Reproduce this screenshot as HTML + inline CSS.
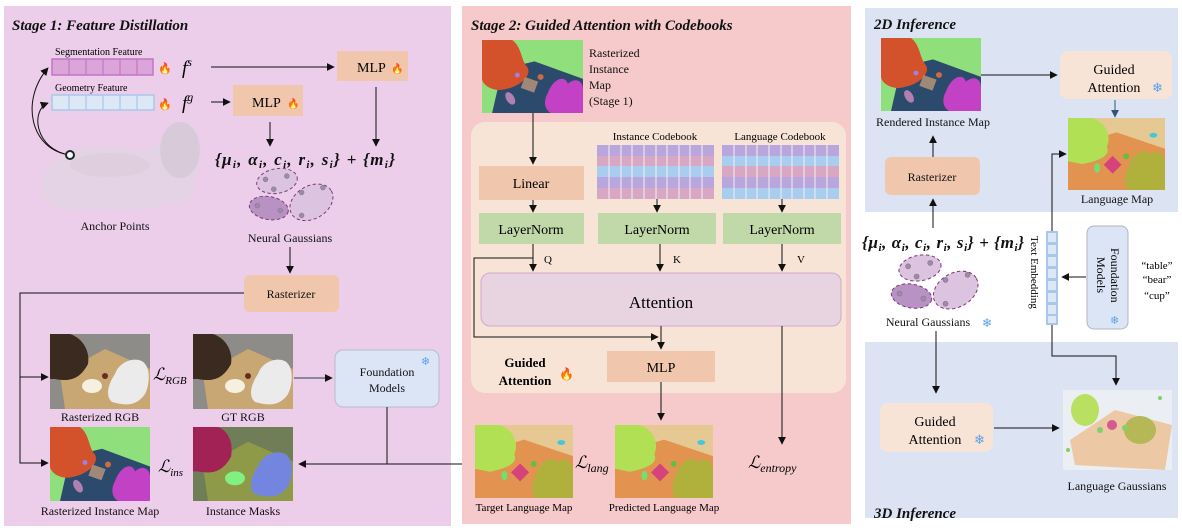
<!DOCTYPE html>
<html><head><meta charset="utf-8">
<style>
html,body{margin:0;padding:0;background:#fff;}
svg{display:block;font-family:"Liberation Serif",serif;}
.t{font-size:12px;fill:#111;}
.bt{font-weight:bold;font-style:italic;font-size:15px;fill:#111;}
.m{font-style:italic;font-weight:bold;font-size:17px;fill:#111;}
</style></head><body>
<svg width="1182" height="530" viewBox="0 0 1182 530" xmlns="http://www.w3.org/2000/svg">
<defs>
<marker id="a" viewBox="0 0 10 10" refX="9" refY="5" markerWidth="8" markerHeight="8" orient="auto-start-reverse"><path d="M0,0L10,5L0,10z" fill="#111"/></marker>
<marker id="ab" viewBox="0 0 10 10" refX="9" refY="5" markerWidth="8" markerHeight="8" orient="auto"><path d="M0,0L10,5L0,10z" fill="#2d5575"/></marker>
<symbol id="inst" viewBox="0 0 100 75" preserveAspectRatio="none">
<rect width="100" height="75" fill="#8fe07c"/>
<path d="M20,30 L52,22 L100,40 L100,75 L10,75 Z" fill="#2b4a6c"/>
<path d="M0,0 L30,0 C40,8 38,20 45,28 C50,38 35,48 25,50 C10,55 0,45 0,40Z" fill="#d4522b"/>
<path d="M65,55 C70,40 82,35 85,45 C92,38 100,42 100,50 L100,75 L68,75 C60,70 62,60 65,55Z" fill="#c241c4"/>
<rect x="40" y="40" width="14" height="12" fill="#a08878" transform="rotate(20 47 46)"/>
<circle cx="58" cy="38" r="3" fill="#d06a40"/><circle cx="35" cy="36" r="2.5" fill="#a080e0"/>
<ellipse cx="28" cy="60" rx="4" ry="7" fill="#b080b0" transform="rotate(-30 28 60)"/>
</symbol>
<symbol id="lang" viewBox="0 0 100 75" preserveAspectRatio="none">
<rect width="100" height="75" fill="#e5c892"/>
<path d="M0,30 L50,15 L100,32 L100,75 L0,75Z" fill="#e2934f"/>
<path d="M0,0 L25,0 C40,5 45,20 40,30 C45,40 30,45 15,48 L0,45Z" fill="#b2e054"/>
<path d="M65,45 C70,35 80,32 85,38 C95,30 100,40 100,50 L100,75 L62,75 C55,68 60,55 65,45Z" fill="#b0b03c"/>
<rect x="40" y="42" width="13" height="13" fill="#d5427c" transform="rotate(45 46 48)"/>
<circle cx="60" cy="40" r="3" fill="#60c040"/><ellipse cx="88" cy="18" rx="4" ry="2.5" fill="#40c8e0"/>
<ellipse cx="30" cy="52" rx="3" ry="5" fill="#70e070"/>
</symbol>
<symbol id="rgb" viewBox="0 0 100 75" preserveAspectRatio="none">
<rect width="100" height="75" fill="#8e8c88"/>
<path d="M10,40 L55,15 L100,35 L100,75 L15,75Z" fill="#c9a773"/>
<path d="M0,0 L20,0 C35,5 40,20 38,30 C30,45 20,48 5,45 L0,45Z" fill="#3b2a20"/>
<path d="M65,40 C70,25 90,22 95,30 C100,35 100,50 95,60 C85,75 70,70 62,68 C55,62 58,50 65,40Z" fill="#ebebeb"/>
<ellipse cx="42" cy="52" rx="10" ry="7" fill="#f5f0e0"/>
<circle cx="55" cy="42" r="3" fill="#6a2a20"/>
</symbol>
<symbol id="mask" viewBox="0 0 100 75" preserveAspectRatio="none">
<rect width="100" height="75" fill="#6f7e56"/>
<path d="M10,40 L55,15 L100,35 L100,75 L15,75Z" fill="#8e9a48"/>
<path d="M0,0 L25,0 C38,5 40,20 38,30 C30,45 20,48 5,45 L0,45Z" fill="#a32256"/>
<path d="M65,40 C70,25 90,22 95,30 C100,35 100,50 95,60 C85,75 70,70 62,68 C55,62 58,50 65,40Z" fill="#7485e0"/>
<ellipse cx="42" cy="52" rx="10" ry="7" fill="#80f080"/>
</symbol>
<g id="gauss">
<ellipse cx="0" cy="0" rx="25" ry="15" fill="#dcc4e0" stroke="#7a3a7a" stroke-dasharray="4 3" stroke-width="1.2" transform="rotate(-10)"/>
<ellipse cx="-10" cy="33" rx="24" ry="14" fill="#b992c4" stroke="#7a3a7a" stroke-dasharray="4 3" stroke-width="1.2" transform="rotate(10 -10 33)"/>
<ellipse cx="42" cy="26" rx="28" ry="20" fill="#dcc4e0" stroke="#7a3a7a" stroke-dasharray="4 3" stroke-width="1.2" transform="rotate(-30 42 26)"/>
<g fill="#a08aa8" stroke="#80708a" stroke-width="0.6"><circle cx="-14" cy="-2" r="3"/><circle cx="12" cy="-6" r="3"/><circle cx="-4" cy="10" r="3"/><circle cx="-24" cy="30" r="3"/><circle cx="4" cy="36" r="3"/><circle cx="30" cy="14" r="3"/><circle cx="56" cy="8" r="3"/><circle cx="30" cy="42" r="3"/></g>
</g>
</defs>

<!-- Stage 1 panel -->
<rect x="4" y="6" width="447" height="520" fill="#eccdea"/>
<text x="12" y="30" class="bt">Stage 1: Feature Distillation</text>
<text x="55" y="55" style="font-size:10px">Segmentation Feature</text>
<rect x="52" y="59" width="101" height="16" fill="#dba5da" stroke="#c474c4" stroke-width="1.5"/>
<g stroke="#c474c4" stroke-width="1.2"><line x1="69" y1="59" x2="69" y2="75"/><line x1="86" y1="59" x2="86" y2="75"/><line x1="103" y1="59" x2="103" y2="75"/><line x1="120" y1="59" x2="120" y2="75"/><line x1="137" y1="59" x2="137" y2="75"/></g>
<text x="55" y="91" style="font-size:10px">Geometry Feature</text>
<rect x="52" y="95" width="102" height="15" fill="#dde8f6" stroke="#a9c8e9" stroke-width="1.5"/>
<g stroke="#a9c8e9" stroke-width="1.2"><line x1="69" y1="95" x2="69" y2="110"/><line x1="86" y1="95" x2="86" y2="110"/><line x1="103" y1="95" x2="103" y2="110"/><line x1="120" y1="95" x2="120" y2="110"/><line x1="137" y1="95" x2="137" y2="110"/></g>
<text x="158" y="72" style="font-size:11px">🔥</text><text x="158" y="108" style="font-size:11px">🔥</text>
<text x="182" y="74" style="font-size:19px;font-style:italic">f<tspan dy="-8" font-size="12">s</tspan></text>
<text x="182" y="109" style="font-size:19px;font-style:italic">f<tspan dy="-8" font-size="12">g</tspan></text>
<line x1="211" y1="67" x2="334" y2="67" stroke="#111" marker-end="url(#a)"/>
<rect x="337" y="51" width="71" height="30" fill="#f0c7ac"/>
<text x="357" y="72" style="font-size:14px">MLP</text><text x="391" y="72" style="font-size:10px">🔥</text>
<line x1="211" y1="102" x2="230" y2="102" stroke="#111" marker-end="url(#a)"/>
<rect x="233" y="85" width="70" height="31" fill="#f0c7ac"/>
<text x="252" y="107" style="font-size:14px">MLP</text><text x="287" y="107" style="font-size:10px">🔥</text>
<line x1="270" y1="122" x2="270" y2="146" stroke="#111" marker-end="url(#a)"/>
<line x1="376" y1="87" x2="376" y2="146" stroke="#111" marker-end="url(#a)"/>
<text x="215" y="165" class="m" textLength="180" lengthAdjust="spacing">{μ<tspan font-size="11" dy="3">i</tspan><tspan dy="-3">, α</tspan><tspan font-size="11" dy="3">i</tspan><tspan dy="-3">, c</tspan><tspan font-size="11" dy="3">i</tspan><tspan dy="-3">, r</tspan><tspan font-size="11" dy="3">i</tspan><tspan dy="-3">, s</tspan><tspan font-size="11" dy="3">i</tspan><tspan dy="-3">}  +  {m</tspan><tspan font-size="11" dy="3">i</tspan><tspan dy="-3">}</tspan></text>
<use href="#gauss" transform="translate(277,181) scale(0.82)"/>
<text x="290" y="242" class="t" text-anchor="middle">Neural Gaussians</text>
<!-- anchor cloud -->
<g opacity="0.7">
<path d="M45,170 L70,150 L100,145 L150,150 L175,125 L195,125 L200,160 L190,200 L140,210 L60,210 L40,195Z" fill="#e2d6e2"/>
<ellipse cx="180" cy="150" rx="20" ry="28" fill="#d2cad2"/>
<ellipse cx="110" cy="165" rx="40" ry="12" fill="#dad0da"/>
</g>
<text x="115" y="230" class="t" text-anchor="middle">Anchor Points</text>
<path d="M70,155 C30,150 20,100 48,68" fill="none" stroke="#111" marker-end="url(#a)"/>
<path d="M70,155 C35,150 30,110 48,103" fill="none" stroke="#111" marker-end="url(#a)"/>
<circle cx="70" cy="155" r="4" fill="#fff" stroke="#1a2a30" stroke-width="2"/>
<line x1="290" y1="247" x2="290" y2="273" stroke="#111" marker-end="url(#a)"/>
<rect x="244" y="275" width="95" height="37" rx="6" fill="#f0c7ac"/>
<text x="291" y="298" class="t" text-anchor="middle">Rasterizer</text>
<polyline points="244,293 20,293 20,463 48,463" fill="none" stroke="#111" marker-end="url(#a)"/>
<line x1="20" y1="377" x2="48" y2="377" stroke="#111" marker-end="url(#a)"/>
<use href="#rgb" x="50" y="334" width="100" height="75"/>
<use href="#rgb" x="193" y="334" width="100" height="75"/>
<text x="100" y="421" class="t" text-anchor="middle">Rasterized RGB</text>
<text x="243" y="421" class="t" text-anchor="middle">GT RGB</text>
<text x="153" y="380" style="font-style:italic;font-size:17px">ℒ<tspan font-size="11" dy="4">RGB</tspan></text>
<use href="#inst" x="50" y="427" width="100" height="74"/>
<use href="#mask" x="193" y="427" width="100" height="74"/>
<text x="158" y="472" style="font-style:italic;font-size:17px">ℒ<tspan font-size="11" dy="4">ins</tspan></text>
<text x="100" y="515" class="t" text-anchor="middle">Rasterized Instance Map</text>
<text x="243" y="515" class="t" text-anchor="middle">Instance Masks</text>
<line x1="294" y1="378" x2="332" y2="378" stroke="#2d3d50" marker-end="url(#a)"/>
<rect x="335" y="350" width="104" height="57" rx="8" fill="#dbe5f5" stroke="#b8bcc8"/>
<text x="387" y="376" class="t" text-anchor="middle">Foundation</text>
<text x="387" y="392" class="t" text-anchor="middle">Models</text>
<text x="421" y="365" style="font-size:11px;fill:#5aa0e8">❄</text>
<line x1="387" y1="407" x2="387" y2="464" stroke="#111"/>
<line x1="299" y1="464" x2="471" y2="464" stroke="#111" marker-start="url(#a)" marker-end="url(#a)"/>

<!-- Stage 2 -->
<rect x="462" y="6" width="389" height="518" fill="#f6c9ca"/>
<text x="471" y="30" class="bt">Stage 2: Guided Attention with Codebooks</text>
<use href="#inst" x="482" y="40" width="101" height="73"/>
<text x="589" y="57" class="t">Rasterized</text><text x="589" y="73" class="t">Instance</text><text x="589" y="89" class="t">Map</text><text x="589" y="105" class="t">(Stage 1)</text>
<rect x="471" y="122" width="375" height="271" rx="14" fill="#f8e4d7"/>
<line x1="533" y1="113" x2="533" y2="164" stroke="#111" marker-end="url(#a)"/>
<rect x="479" y="166" width="105" height="34" fill="#f0c7ac"/>
<text x="531" y="188" style="font-size:14px" text-anchor="middle">Linear</text>
<line x1="533" y1="200" x2="533" y2="212" stroke="#111" marker-end="url(#a)"/>
<rect x="479" y="213" width="105" height="31" fill="#c1d9a9"/>
<text x="531" y="234" style="font-size:14px" text-anchor="middle">LayerNorm</text>
<rect x="598" y="213" width="118" height="31" fill="#c1d9a9"/>
<text x="657" y="234" style="font-size:14px" text-anchor="middle">LayerNorm</text>
<rect x="723" y="213" width="118" height="31" fill="#c1d9a9"/>
<text x="782" y="234" style="font-size:14px" text-anchor="middle">LayerNorm</text>
<text x="655" y="140" style="font-size:11px" text-anchor="middle">Instance Codebook</text>
<text x="780" y="140" style="font-size:11px" text-anchor="middle">Language Codebook</text>
<g>
<rect x="597" y="145" width="117" height="11" fill="#b9a6dc"/><rect x="597" y="156" width="117" height="10" fill="#d7a7c4"/><rect x="597" y="166" width="117" height="11" fill="#a8cdef"/><rect x="597" y="177" width="117" height="11" fill="#b9a6dc"/><rect x="597" y="188" width="117" height="11" fill="#d7a7c4"/>
<rect x="722" y="145" width="117" height="11" fill="#b9a6dc"/><rect x="722" y="156" width="117" height="10" fill="#a8cdef"/><rect x="722" y="166" width="117" height="11" fill="#d7a7c4"/><rect x="722" y="177" width="117" height="11" fill="#b9a6dc"/><rect x="722" y="188" width="117" height="11" fill="#a8cdef"/>
<g stroke="#f0e8f0" stroke-width="1.4" opacity="0.8">
<path d="M609,145V199M621,145V199M632,145V199M644,145V199M656,145V199M667,145V199M679,145V199M690,145V199M702,145V199"/>
<path d="M734,145V199M746,145V199M757,145V199M769,145V199M781,145V199M792,145V199M804,145V199M815,145V199M827,145V199"/>
</g></g>
<line x1="657" y1="199" x2="657" y2="212" stroke="#111" marker-end="url(#a)"/>
<line x1="782" y1="199" x2="782" y2="212" stroke="#111" marker-end="url(#a)"/>
<line x1="533" y1="244" x2="533" y2="271" stroke="#111" marker-end="url(#a)"/>
<line x1="660" y1="244" x2="660" y2="271" stroke="#111" marker-end="url(#a)"/>
<line x1="782" y1="244" x2="782" y2="271" stroke="#111" marker-end="url(#a)"/>
<text x="544" y="263" style="font-size:11px">Q</text><text x="673" y="263" style="font-size:11px">K</text><text x="797" y="263" style="font-size:11px">V</text>
<rect x="481" y="273" width="360" height="53" rx="9" fill="#e8d3e0" stroke="#d2a8cb"/>
<text x="661" y="308" style="font-size:17px" text-anchor="middle">Attention</text>
<polyline points="533,258 474,258 474,337 658,337" fill="none" stroke="#111" marker-end="url(#a)"/>
<line x1="661" y1="326" x2="661" y2="349" stroke="#111" marker-end="url(#a)"/>
<rect x="607" y="351" width="108" height="31" fill="#f0c7ac"/>
<text x="661" y="372" style="font-size:14px" text-anchor="middle">MLP</text>
<text x="525" y="367" style="font-size:13px;font-weight:bold" text-anchor="middle">Guided</text>
<text x="525" y="385" style="font-size:13px;font-weight:bold" text-anchor="middle">Attention</text>
<text x="559" y="378" style="font-size:12px">🔥</text>
<line x1="661" y1="382" x2="661" y2="420" stroke="#111" marker-end="url(#a)"/>
<line x1="782" y1="326" x2="782" y2="444" stroke="#111" marker-end="url(#a)"/>
<use href="#lang" x="475" y="425" width="98" height="73"/>
<use href="#lang" x="615" y="425" width="98" height="73"/>
<text x="524" y="511" style="font-size:11px" text-anchor="middle">Target Language Map</text>
<text x="664" y="511" style="font-size:11px" text-anchor="middle">Predicted Language Map</text>
<text x="575" y="468" style="font-size:17px;font-style:italic">ℒ<tspan font-size="12" dy="4">lang</tspan></text>
<text x="748" y="468" style="font-size:17px;font-style:italic">ℒ<tspan font-size="12" dy="4">entropy</tspan></text>

<!-- Right panels -->
<rect x="865" y="8" width="313" height="204" fill="#dce4f4"/>
<rect x="865" y="342" width="313" height="176" fill="#dce4f4"/>
<text x="874" y="29" class="bt">2D Inference</text>
<text x="874" y="518" class="bt">3D Inference</text>
<use href="#inst" x="881" y="38" width="100" height="73"/>
<text x="933" y="126" class="t" text-anchor="middle">Rendered Instance Map</text>
<line x1="981" y1="75" x2="1057" y2="75" stroke="#111" marker-end="url(#a)"/>
<rect x="1060" y="51" width="112" height="48" rx="8" fill="#f8e4d7"/>
<text x="1114" y="74" style="font-size:14px" text-anchor="middle">Guided</text>
<text x="1114" y="92" style="font-size:14px" text-anchor="middle">Attention</text>
<text x="1152" y="92" style="font-size:13px;fill:#5aa0e8">❄</text>
<line x1="1115" y1="100" x2="1115" y2="117" stroke="#2d5575" marker-end="url(#ab)"/>
<use href="#lang" x="1068" y="118" width="97" height="72"/>
<text x="1117" y="203" class="t" text-anchor="middle">Language Map</text>
<rect x="885" y="157" width="95" height="38" rx="6" fill="#f0c7ac"/>
<text x="932" y="181" class="t" text-anchor="middle">Rasterizer</text>
<line x1="933" y1="157" x2="933" y2="136" stroke="#111" marker-end="url(#a)"/>
<line x1="933" y1="228" x2="933" y2="199" stroke="#111" marker-end="url(#a)"/>
<text x="862" y="248" class="m" textLength="162" lengthAdjust="spacing">{μ<tspan font-size="11" dy="3">i</tspan><tspan dy="-3">, α</tspan><tspan font-size="11" dy="3">i</tspan><tspan dy="-3">, c</tspan><tspan font-size="11" dy="3">i</tspan><tspan dy="-3">, r</tspan><tspan font-size="11" dy="3">i</tspan><tspan dy="-3">, s</tspan><tspan font-size="11" dy="3">i</tspan><tspan dy="-3">} + {m</tspan><tspan font-size="11" dy="3">i</tspan><tspan dy="-3">}</tspan></text>
<use href="#gauss" transform="translate(920,268) scale(0.85)"/>
<text x="928" y="326" class="t" text-anchor="middle">Neural Gaussians</text>
<text x="982" y="327" style="font-size:12px;fill:#5aa0e8">❄</text>
<rect x="1046" y="231" width="12" height="94" fill="#a9c8e9"/>
<g fill="#dce8f6"><rect x="1048" y="233" width="8" height="9"/><rect x="1048" y="245" width="8" height="9"/><rect x="1048" y="257" width="8" height="9"/><rect x="1048" y="269" width="8" height="9"/><rect x="1048" y="281" width="8" height="9"/><rect x="1048" y="293" width="8" height="9"/><rect x="1048" y="305" width="8" height="9"/><rect x="1048" y="316" width="8" height="7"/></g>
<text transform="translate(1031,236) rotate(90)" style="font-size:11px">Text Embedding</text>
<polyline points="1052,231 1052,154 1066,154" fill="none" stroke="#111" marker-end="url(#a)"/>
<rect x="1087" y="226" width="41" height="103" rx="7" fill="#dbe5f5" stroke="#b0b4c0"/>
<text transform="translate(1111,248) rotate(90)" style="font-size:12px">Foundation</text>
<text transform="translate(1097,257) rotate(90)" style="font-size:12px">Models</text>
<text x="1110" y="324" style="font-size:11px;fill:#5aa0e8">❄</text>
<line x1="1086" y1="277" x2="1062" y2="277" stroke="#111" marker-end="url(#a)"/>
<text x="1157" y="269" style="font-size:11px" text-anchor="middle">“table”</text>
<text x="1157" y="283" style="font-size:11px" text-anchor="middle">“bear”</text>
<text x="1157" y="299" style="font-size:11px" text-anchor="middle">“cup”</text>
<polyline points="1052,325 1052,356 1116,356 1116,385" fill="none" stroke="#111" marker-end="url(#a)"/>
<line x1="936" y1="331" x2="936" y2="393" stroke="#111" marker-end="url(#a)"/>
<rect x="880" y="403" width="113" height="49" rx="8" fill="#f8e4d7"/>
<text x="935" y="426" style="font-size:14px" text-anchor="middle">Guided</text>
<text x="935" y="444" style="font-size:14px" text-anchor="middle">Attention</text>
<text x="974" y="444" style="font-size:13px;fill:#5aa0e8">❄</text>
<line x1="994" y1="428" x2="1059" y2="428" stroke="#111" marker-end="url(#a)"/>
<g opacity="0.85">
<rect x="1063" y="390" width="109" height="80" fill="#eef2f4"/>
<path d="M1070,440 L1115,410 L1172,425 L1165,470 L1075,465Z" fill="#f0b070" opacity="0.7"/>
<ellipse cx="1085" cy="410" rx="14" ry="16" fill="#b4e048"/>
<ellipse cx="1140" cy="430" rx="16" ry="14" fill="#b0b03c"/>
<circle cx="1112" cy="425" r="5" fill="#d5427c"/>
<g fill="#70d050"><circle cx="1100" cy="430" r="3"/><circle cx="1125" cy="428" r="3"/><circle cx="1160" cy="398" r="2"/><circle cx="1068" cy="450" r="2"/></g>
</g>
<text x="1117" y="490" class="t" text-anchor="middle">Language Gaussians</text>
</svg>
</body></html>
